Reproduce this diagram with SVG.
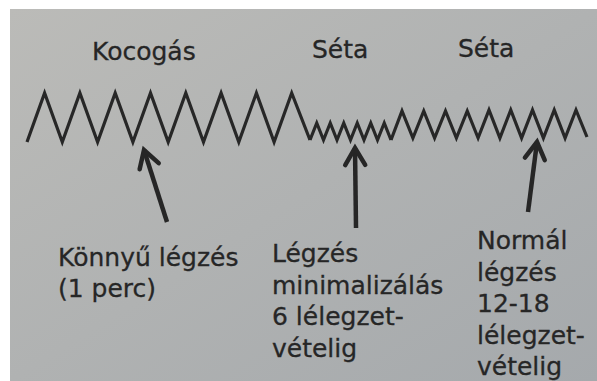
<svg xmlns="http://www.w3.org/2000/svg" width="597" height="381" viewBox="0 0 597 381">
  <defs>
    <linearGradient id="bg" x1="0" y1="0" x2="1" y2="1">
      <stop offset="0" stop-color="#bbbbb8"/>
      <stop offset="1" stop-color="#a5a9ac"/>
    </linearGradient>
    <marker id="head" markerUnits="userSpaceOnUse" markerWidth="40" markerHeight="40" viewBox="-20 -20 40 40" refX="0" refY="0" orient="auto" overflow="visible">
      <path d="M -17 -10 L 0 0 L -17 10" fill="none" stroke="#262626" stroke-width="4.5" stroke-linejoin="miter" stroke-linecap="round"/>
    </marker>
    <style>
      .zz { fill: none; stroke: #272727; stroke-width: 3.2; stroke-linejoin: miter; stroke-miterlimit: 10; }
      .lbl { font-family: "DejaVu Sans", Verdana, sans-serif; font-size: 25px; fill: #262626; stroke: #262626; stroke-width: 0.3; }
      .arr { stroke: #262626; stroke-width: 4.5; fill: none; marker-end: url(#head); }
    </style>
  </defs>
  <rect x="0" y="0" width="597" height="381" fill="#ffffff"/>
  <rect x="10" y="9" width="587" height="372" fill="url(#bg)"/>

  <g id="kocogas">
    <text class="lbl" x="92" y="60">Kocogás</text>
    <polyline class="zz" points="27,142 44.6,93 62.3,142 79.9,93 97.6,142 115.2,93 132.9,142 150.5,93 168.2,142 185.8,93 203.5,142 221.1,93 238.8,142 256.4,93 274.1,142 291.7,93 310,140"/>
  </g>
  <g id="seta1">
    <text class="lbl" x="312" y="58">Séta</text>
    <polyline class="zz" points="310,140 316.75,123 323.5,140 330.25,123 337,140 343.75,123 350.5,140 357.25,123 364,140 370.75,123 377.5,140 384.25,123 391,140"/>
  </g>
  <g id="seta2">
    <text class="lbl" x="458" y="57">Séta</text>
    <polyline class="zz" points="391,140 402,111 412.9,138 423.75,111 434.6,138 445.5,111 456.4,138 467.25,111 478.1,138 489,110 499.9,138 510.75,110 521.6,138 532.5,110 543.4,138 554.25,110 565.1,138 576,110 587,137"/>
  </g>

  <g id="label-konnyu">
    <text class="lbl" x="58" y="266">Könnyű légzés</text>
    <text class="lbl" x="58" y="297">(1 perc)</text>
  </g>
  <g id="label-minimalizalas">
    <text class="lbl" x="272" y="262">Légzés</text>
    <text class="lbl" x="272" y="293.5">minimalizálás</text>
    <text class="lbl" x="272" y="325">6 lélegzet-</text>
    <text class="lbl" x="272" y="356.5">vételig</text>
  </g>
  <g id="label-normal">
    <text class="lbl" x="477" y="249">Normál</text>
    <text class="lbl" x="477" y="280.5">légzés</text>
    <text class="lbl" x="477" y="312">12-18</text>
    <text class="lbl" x="477" y="343.5">lélegzet-</text>
    <text class="lbl" x="477" y="375">vételig</text>
  </g>

  <g id="connectors">
    <line class="arr" x1="167" y1="222" x2="144" y2="150"/>
    <line class="arr" x1="356" y1="228" x2="355" y2="148"/>
    <line class="arr" x1="528" y1="212" x2="537" y2="142"/>
  </g>
</svg>
